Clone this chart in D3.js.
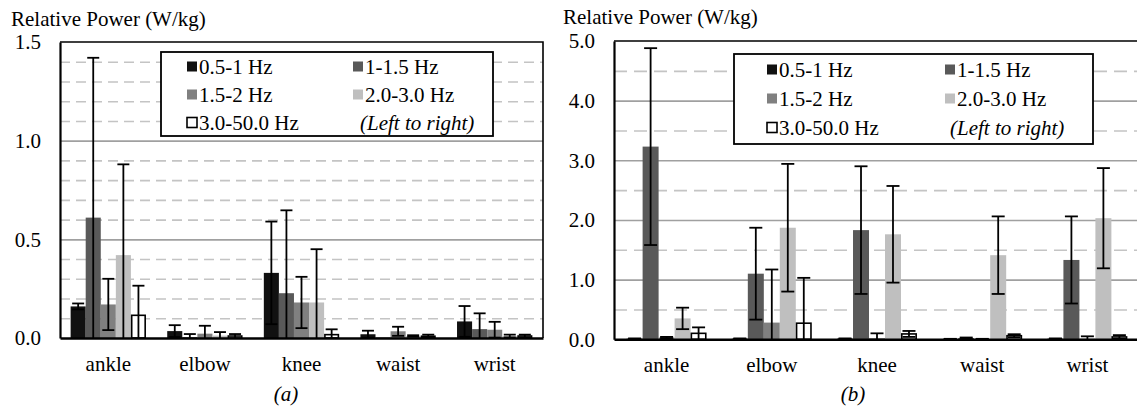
<!DOCTYPE html>
<html>
<head>
<meta charset="utf-8">
<script src="https://cdn.jsdelivr.net/npm/d3@7"></script>
<style>
  body { margin: 0; background: #fff; }
</style>
</head>
<body>
<svg id="chart" width="1137" height="407" font-family="'Liberation Serif'"></svg>
<script>
const categories = ["ankle", "elbow", "knee", "waist", "wrist"];
const seriesNames = ["0.5-1 Hz", "1-1.5 Hz", "1.5-2 Hz", "2.0-3.0 Hz", "3.0-50.0 Hz"];
const seriesColors = ["#111111", "#595959", "#808080", "#bfbfbf", "#ffffff"];

// panel (a): mean per series, one value per body position
const meanA = [
  [0.16, 0.035, 0.33, 0.019, 0.084],
  [0.61, 0.005, 0.227, 0.003, 0.045],
  [0.17, 0.022, 0.18, 0.034, 0.042],
  [0.42, 0.012, 0.18, 0.01, 0.01],
  [0.115, 0.01, 0.017, 0.009, 0.01]
];
const errA = [
  [0.015, 0.03, 0.26, 0.018, 0.078],
  [0.81, 0.015, 0.42, 0.0, 0.08],
  [0.13, 0.04, 0.13, 0.023, 0.04],
  [0.46, 0.018, 0.27, 0.004, 0.007],
  [0.15, 0.01, 0.027, 0.008, 0.007]
];

// panel (b)
const meanB = [
  [0.01, 0.01, 0.01, 0.005, 0.01],
  [3.23, 1.1, 1.83, 0.02, 1.33],
  [0.03, 0.28, 0.02, 0.005, 0.01],
  [0.35, 1.87, 1.76, 1.41, 2.03],
  [0.1, 0.27, 0.09, 0.06, 0.04]
];
const errB = [
  [0.005, 0.005, 0.005, 0.003, 0.005],
  [1.65, 0.77, 1.07, 0.01, 0.73],
  [0.01, 0.89, 0.08, 0.003, 0.04],
  [0.18, 1.07, 0.81, 0.65, 0.84],
  [0.1, 0.76, 0.05, 0.025, 0.03]
];

const ticksA = [0, 0.5, 1.0, 1.5];
const minorA = [0.1, 0.2, 0.3, 0.4, 0.6, 0.7, 0.8, 0.9, 1.1, 1.2, 1.3, 1.4];
const ticksB = [0, 1, 2, 3, 4, 5];
const minorB = [0.5, 1.5, 2.5, 3.5, 4.5];

const svg = d3.select("#chart");
const FS = 21;
const FONT = "'Liberation Serif'";

function drawPanel(p) {
  const g = svg.append("g");
  const width = p.right - p.left;

  const y = d3.scaleLinear().domain([0, p.ymax]).range([p.bottom, p.top]);
  const x0 = d3.scaleBand().domain(categories).range([p.left, p.right])
    .paddingInner(p.padIn).paddingOuter(p.padOut);
  const x1 = d3.scaleBand().domain(d3.range(seriesNames.length)).range([0, x0.bandwidth()]);

  // minor dashed grid
  g.append("g")
    .attr("transform", "translate(" + p.left + ",0)")
    .call(d3.axisLeft(y).tickValues(p.minor).tickSize(-width).tickFormat(""))
    .call(s => s.select(".domain").remove())
    .selectAll("line")
    .attr("stroke", "#c4c4c4").attr("stroke-width", 1.6).attr("stroke-dasharray", p.dash);

  // major solid grid
  g.append("g")
    .attr("transform", "translate(" + p.left + ",0)")
    .call(d3.axisLeft(y).tickValues(p.ticks.slice(1, -1)).tickSize(-width).tickFormat(""))
    .call(s => s.select(".domain").remove())
    .selectAll("line")
    .attr("stroke", "#a0a0a0").attr("stroke-width", 1.6);

  // frame (top / right)
  g.append("path")
    .attr("d", "M" + p.left + "," + y(p.ymax) + "H" + p.right + "V" + p.bottom)
    .attr("fill", "none").attr("stroke", "#000").attr("stroke-width", 1.6);

  // bars
  const rows = [];
  p.mean.forEach((vals, si) => vals.forEach((v, ci) => {
    rows.push({ s: si, c: categories[ci], v: v, e: p.err[si][ci] });
  }));

  g.append("g").selectAll("rect")
    .data(rows).join("rect")
    .attr("x", d => x0(d.c) + x1(d.s) + (d.s === 4 ? 0.8 : 0))
    .attr("y", d => y(d.v))
    .attr("width", d => x1.bandwidth() - (d.s === 4 ? 1.6 : 0))
    .attr("height", d => y(0) - y(d.v))
    .attr("fill", d => seriesColors[d.s])
    .attr("stroke", d => d.s === 4 ? "#000" : "none")
    .attr("stroke-width", 1.6);

  // error bars
  const cap = p.cap;
  const eb = g.append("g").attr("stroke", "#000").attr("stroke-width", 1.8).attr("fill", "none");
  rows.filter(d => d.e > 0).forEach(d => {
    const cx = x0(d.c) + x1(d.s) + x1.bandwidth() / 2;
    const hi = d.v + d.e, lo = Math.max(0, d.v - d.e);
    eb.append("line").attr("x1", cx).attr("x2", cx).attr("y1", y(hi)).attr("y2", y(lo));
    eb.append("line").attr("x1", cx - cap).attr("x2", cx + cap).attr("y1", y(hi)).attr("y2", y(hi));
    if (d.v - d.e > 0) {
      eb.append("line").attr("x1", cx - cap).attr("x2", cx + cap).attr("y1", y(lo)).attr("y2", y(lo));
    }
  });

  // left axis
  g.append("g")
    .attr("transform", "translate(" + p.left + ",0)")
    .call(d3.axisLeft(y).tickValues(p.ticks).tickSize(0).tickPadding(p.tickPad).tickFormat(d3.format(".1f")))
    .attr("font-family", null)
    .call(s => s.select(".domain").attr("stroke", "#000").attr("stroke-width", 2.2))
    .selectAll("text").style("font-size", FS + "px").style("font-family", FONT);

  // bottom axis
  g.append("g")
    .attr("transform", "translate(0," + p.bottom + ")")
    .call(d3.axisBottom(x0).tickSize(0).tickPadding(18))
    .attr("font-family", null)
    .call(s => s.select(".domain").attr("stroke", "#000").attr("stroke-width", 2.6))
    .selectAll("text").style("font-size", FS + "px").style("font-family", FONT);

  // y title
  g.append("text").attr("x", p.titleX).attr("y", p.titleY)
    .style("font-size", FS + "px").style("font-family", FONT).text("Relative Power (W/kg)");

  // panel label
  g.append("text").attr("x", p.labelX).attr("y", 401).attr("text-anchor", "middle")
    .style("font-size", FS + "px").style("font-family", FONT)
    .style("font-style", "italic").text(p.label);

  // legend
  const L = p.legend;
  g.append("rect").attr("x", L.x).attr("y", L.y).attr("width", L.w).attr("height", L.h)
    .attr("fill", "#fff").attr("stroke", "#000").attr("stroke-width", 1.8);
  const order = [[0, 0, 0], [1, 1, 0], [2, 0, 1], [3, 1, 1], [4, 0, 2]];
  order.forEach(([si, col, row]) => {
    const sx = col === 0 ? L.c1 : L.c2;
    const cy = L.y + L.row0 + row * L.rowH;
    g.append("rect").attr("x", sx).attr("y", cy - 5.5).attr("width", 10).attr("height", 10)
      .attr("fill", seriesColors[si])
      .attr("stroke", si === 4 ? "#000" : "none").attr("stroke-width", 1.6);
    g.append("text").attr("x", sx + 12).attr("y", cy).attr("dy", "0.35em")
      .style("font-size", FS + "px").style("font-family", FONT).text(seriesNames[si]);
  });
  g.append("text").attr("x", L.note).attr("y", L.y + L.row0 + 2 * L.rowH).attr("dy", "0.35em")
    .style("font-size", FS + "px").style("font-family", FONT)
    .style("font-style", "italic").text("(Left to right)");
}

drawPanel({
  left: 60, right: 543, top: 42, bottom: 338, ymax: 1.5,
  ticks: ticksA, minor: minorA, dash: "10,6",
  mean: meanA, err: errA, padIn: 0.22, padOut: 0.11, cap: 6,
  tickPad: 19, titleX: 11, titleY: 26, label: "(a)", labelX: 286,
  legend: { x: 161, y: 52, w: 332, h: 84, row0: 15, rowH: 28, c1: 187, c2: 353, note: 360 }
});

drawPanel({
  left: 614, right: 1140, top: 41, bottom: 339.3, ymax: 5,
  ticks: ticksB, minor: minorB, dash: "13,7",
  mean: meanB, err: errB, padIn: 0.24, padOut: 0.12, cap: 6.5,
  tickPad: 19, titleX: 563, titleY: 24, label: "(b)", labelX: 853,
  legend: { x: 734, y: 54, w: 359, h: 90, row0: 16, rowH: 29, c1: 767, c2: 945, note: 950 }
});
</script>
</body>
</html>
